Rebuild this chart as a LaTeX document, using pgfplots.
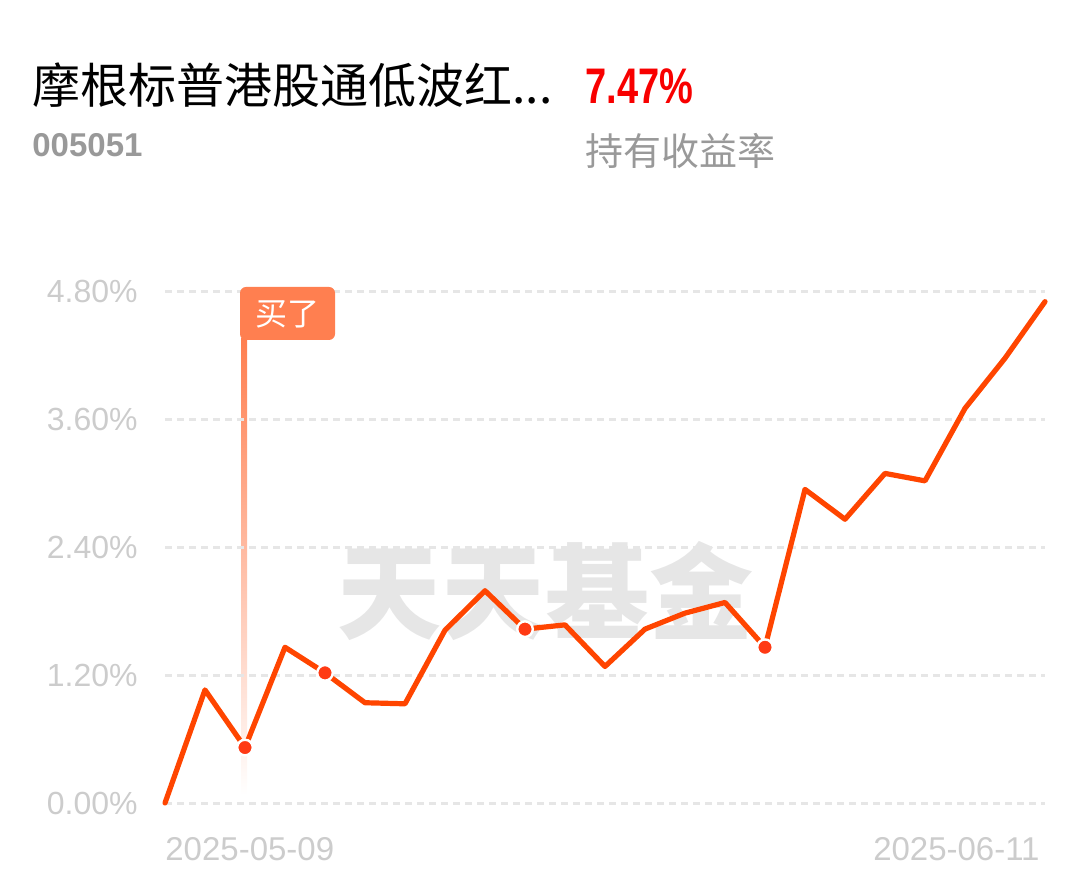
\documentclass[border=0pt]{standalone}
\usepackage{fontspec}
\setmainfont{Liberation Sans}
\newfontfamily\cjk{Noto Sans CJK SC}
\usepackage{graphicx}
\usepackage{pgfplots}
\pgfplotsset{compat=1.18}
\definecolor{linec}{HTML}{FF4500}
\definecolor{dotc}{HTML}{FF3A14}
\definecolor{buyc}{HTML}{FF7F50}
\definecolor{gridc}{HTML}{E6E6E6}
\definecolor{tickc}{HTML}{CCCCCC}
\definecolor{subc}{HTML}{999999}
\definecolor{wmc}{HTML}{E6E6E6}
\definecolor{redc}{HTML}{F80000}
\begin{document}
\begin{tikzpicture}
\path[use as bounding box] (0bp,0bp) rectangle (544.5bp,440.5bp);
% header
\node[anchor=base west, inner sep=0pt] at (16bp,388.5bp) {\cjk\fontsize{24bp}{28bp}\selectfont 摩根标普港股通低波红...};
\node[anchor=base west, inner sep=0pt, text=redc] at (292.5bp,388.5bp) {\scalebox{0.76}[1]{\fontsize{25bp}{30bp}\selectfont\bfseries 7.47\%}};
\node[anchor=base west, inner sep=0pt, text=subc] at (16bp,362bp) {\fontsize{16.5bp}{19bp}\selectfont\bfseries 005051};
\node[anchor=base west, inner sep=0pt, text=subc] at (292.5bp,357.5bp) {\cjk\fontsize{19bp}{22bp}\selectfont 持有收益率};
% watermark
\node[inner sep=0pt, text=wmc] at (272.5bp,145bp) {\cjk\bfseries\fontsize{52bp}{56bp}\selectfont 天天基金};
% buy marker line
\shade[top color=buyc, bottom color=white] (120.5bp,43bp) rectangle (123.5bp,271bp);
\begin{axis}[
  at={(82.5bp,39bp)}, anchor=south west,
  scale only axis, width=440bp, height=256bp,
  xmin=0, xmax=22, ymin=0, ymax=4.8,
  axis line style={draw=none}, clip=false,
  xtick=\empty,
  ytick={0,1.2,2.4,3.6,4.8},
  yticklabels={0.00\%,1.20\%,2.40\%,3.60\%,4.80\%},
  ymajorgrids,
  grid style={draw=gridc, line width=1.5bp, dash pattern=on 3.5bp off 2.5bp},
  yticklabel style={anchor=east, inner sep=0pt, xshift=-13.5bp, text=tickc, font=\fontsize{16bp}{19bp}\selectfont},
  major tick length=0pt,
]
\addplot[linec, line width=2.6bp, line join=round, line cap=round, mark=none] coordinates {
(0,0.00) (1,1.06) (2,0.52) (3,1.46) (4,1.22) (5,0.94) (6,0.93) (7,1.62) (8,1.99) (9,1.63) (10,1.67)
(11,1.28) (12,1.63) (13,1.78) (14,1.88) (15,1.46) (16,2.94) (17,2.66) (18,3.09) (19,3.02) (20,3.70)
(21,4.17) (22,4.70)
};
\addplot[only marks, mark=*, mark size=3.9bp, mark options={fill=dotc, draw=white, line width=1.2bp}] coordinates {
(2,0.52) (4,1.22) (9,1.63) (15,1.46)
};
\node[anchor=base west, inner sep=0pt, text=tickc, font=\fontsize{16.5bp}{19bp}\selectfont] at (axis cs:0,0) [yshift=-28.5bp] {2025-05-09};
\node[anchor=base east, inner sep=0pt, text=tickc, font=\fontsize{16.5bp}{19bp}\selectfont] at (axis cs:22,0) [yshift=-28.5bp, xshift=-2.5bp] {2025-06-11};
\end{axis}
% buy box
\fill[buyc, rounded corners=3bp] (120bp,270.5bp) rectangle (167.5bp,297bp);
\node[text=white, inner sep=0pt] at (143.75bp,283.5bp) {\cjk\fontsize{16bp}{18bp}\selectfont 买了};
\end{tikzpicture}
\end{document}
